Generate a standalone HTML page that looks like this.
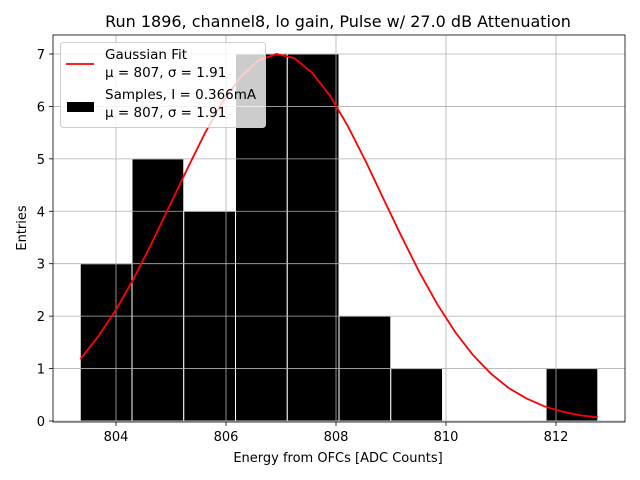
<!DOCTYPE html>
<html><head><meta charset="utf-8"><style>
body{margin:0;background:#fff;}
svg{display:block;font-family:"DejaVu Sans","Liberation Sans",sans-serif;}
</style></head><body>
<svg id="chart" width="640" height="480" viewBox="0 0 640 480">
<text x="338" y="27" font-size="16" text-anchor="middle">Run 1896, channel8, lo gain, Pulse w/ 27.0 dB Attenuation</text>
<g id="plot"></g>
<text x="338" y="462" font-size="13" text-anchor="middle">Energy from OFCs [ADC Counts]</text>
<text transform="translate(26,228) rotate(-90)" font-size="13" text-anchor="middle">Entries</text>
</svg>
<script>
const binStart = 803.35;
const binWidth = 0.941;
const counts = [3,5,4,7,7,2,1,0,0,1];
const fitX0 = 803.35;
const fitStep = 0.3245;
const fitY = [1.18,1.61,2.12,2.72,3.39,4.10,4.81,5.50,6.10,6.57,6.88,7.0,6.92,6.64,6.20,5.62,4.95,4.23,3.52,2.84,2.23,1.70,1.26,0.905,0.63,0.43,0.28,0.18,0.11,0.07];
const xTicks = [804,806,808,810,812];
const yTicks = [0,1,2,3,4,5,6,7];

const L=53,R=625,T=35,B=422;
const sx=v=>116+(v-804)*55;
const sy=v=>421-v*52.43;
const NS='http://www.w3.org/2000/svg';
const g=document.getElementById('plot');
function mk(tag,attrs){const e=document.createElementNS(NS,tag);for(const k in attrs)e.setAttribute(k,attrs[k]);g.appendChild(e);return e;}

counts.forEach((c,i)=>{
  const x0=sx(binStart+i*binWidth), x1=sx(binStart+(i+1)*binWidth);
  if(c<=0) return;
  const r=mk('rect',{x:x0,y:sy(c),width:x1-x0,height:sy(0)-sy(c),fill:'#000',stroke:'#fff','stroke-width':1});
  
  
});
xTicks.forEach(t=>{
  const x=sx(t);
  const l=mk('line',{x1:x,x2:x,y1:T,y2:B,stroke:'#b0b0b0','stroke-width':0.8});
  
  
  mk('line',{x1:x,x2:x,y1:B,y2:B+4,stroke:'#000','stroke-width':0.8});
  const tx=mk('text',{x:x,y:B+19,'font-size':13,'text-anchor':'middle'});
  tx.textContent=t;
  
  
});
yTicks.forEach(t=>{
  const y=sy(t);
  const l=mk('line',{x1:L,x2:R,y1:y,y2:y,stroke:'#b0b0b0','stroke-width':0.8});
  
  
  mk('line',{x1:L-4,x2:L,y1:y,y2:y,stroke:'#000','stroke-width':0.8});
  const tx=mk('text',{x:L-8,y:y+5,'font-size':13,'text-anchor':'end'});
  tx.textContent=t;
  
  
});
const pts=fitY.map((v,i)=>sx(fitX0+i*fitStep)+','+sy(v)).join(' ');
const pl=mk('polyline',{points:pts,fill:'none',stroke:'#ff0000','stroke-width':1.8});


const fr=mk('rect',{x:L,y:T,width:R-L,height:B-T,fill:'none',stroke:'#000','stroke-width':0.8});



const lg=document.createElementNS(NS,'g');


g.appendChild(lg);
function lm(tag,attrs){const e=document.createElementNS(NS,tag);for(const k in attrs)e.setAttribute(k,attrs[k]);lg.appendChild(e);return e;}
lm('rect',{x:60.5,y:42.5,width:205,height:85,rx:3,fill:'#fff','fill-opacity':0.8,stroke:'#ccc'});
lm('line',{x1:66,x2:94,y1:64,y2:64,stroke:'#ff0000','stroke-width':1.8});
lm('rect',{x:67,y:102,width:27,height:10,fill:'#000'});
const lines=[['Gaussian Fit',59],['\u03bc = 807, \u03c3 = 1.91',77],['Samples, I = 0.366mA',99],['\u03bc = 807, \u03c3 = 1.91',117]];
lines.forEach(([t,y])=>{const e=lm('text',{x:105,y:y,'font-size':13.5});e.textContent=t;
  
  });
</script>
</body></html>
